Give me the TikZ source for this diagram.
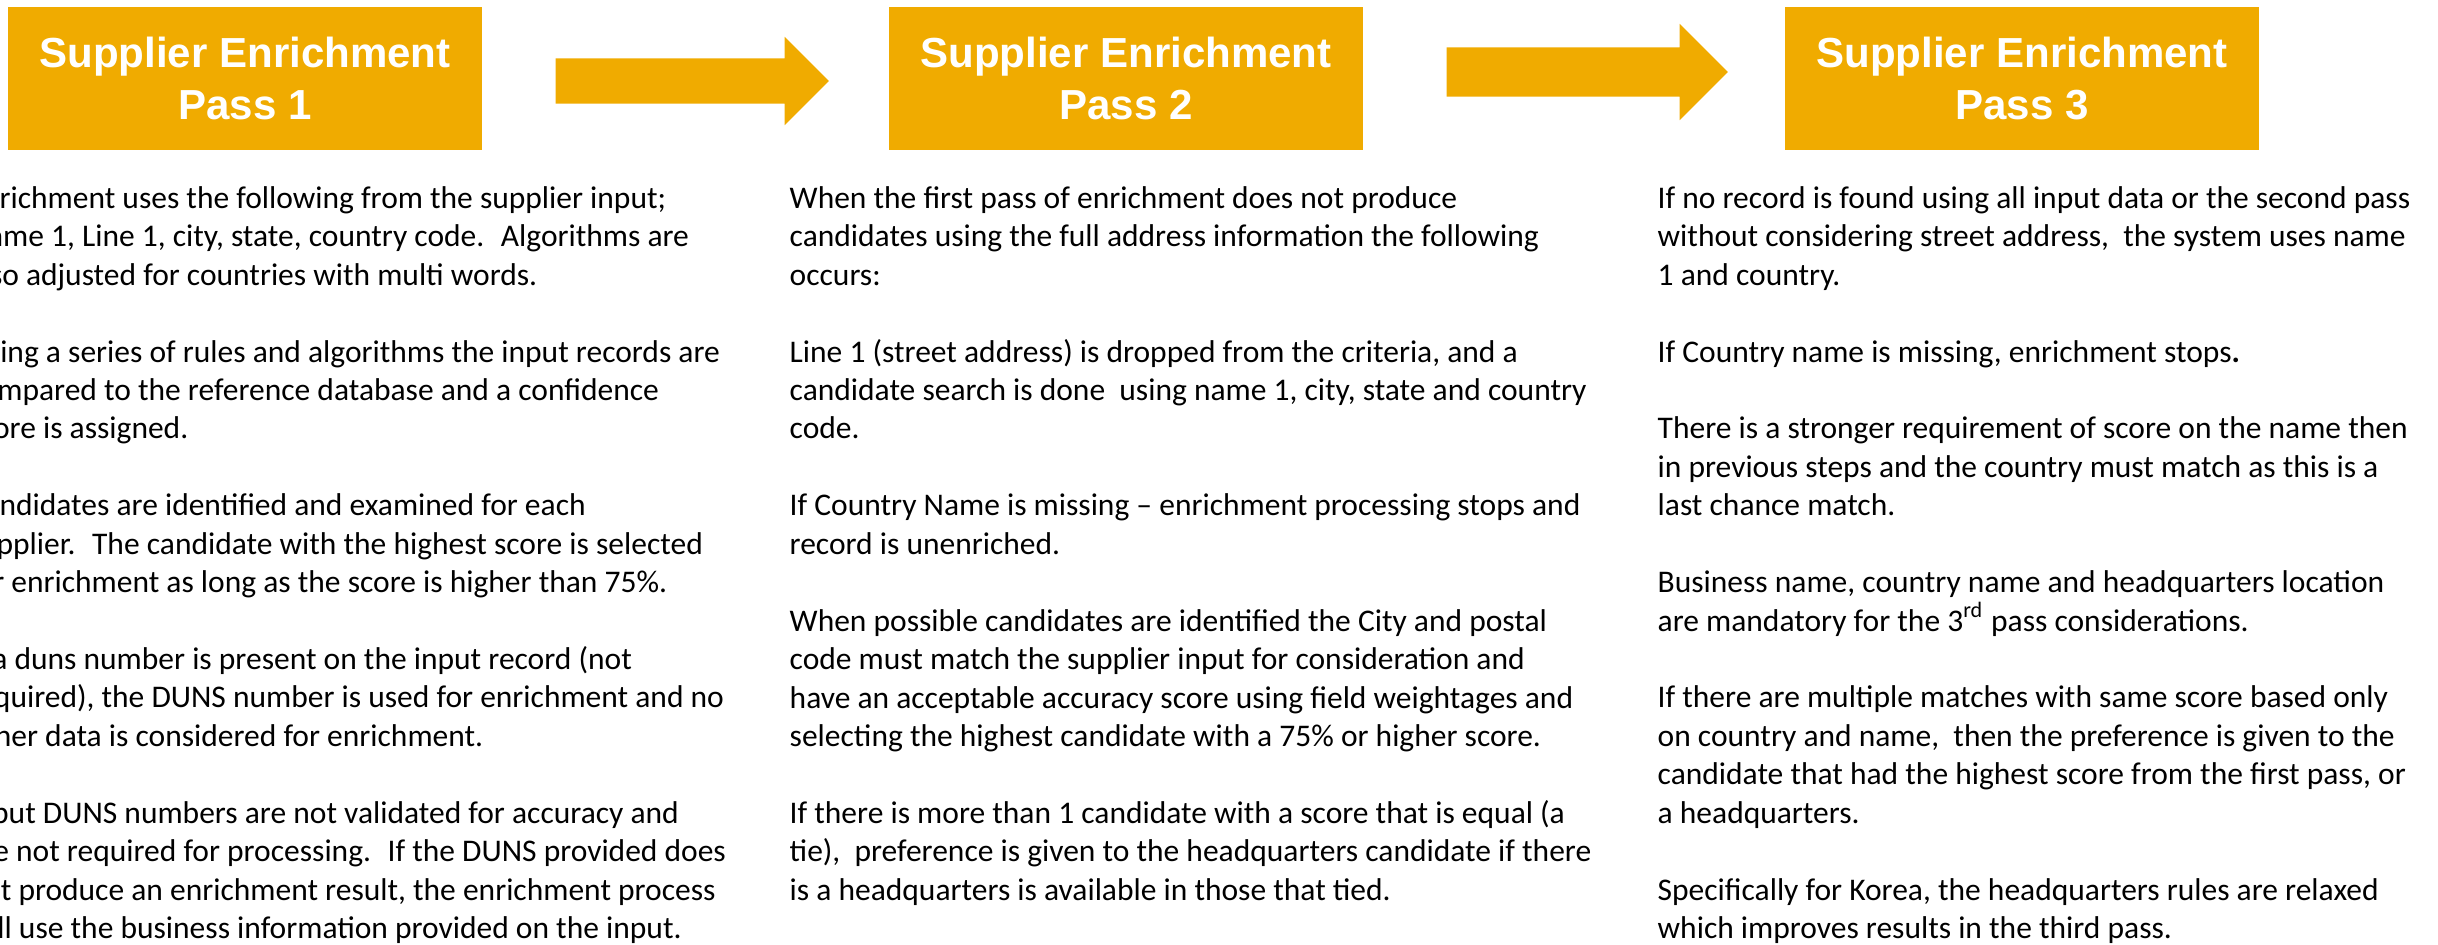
\documentclass[tikz,border=0pt]{standalone}
\usepackage{fontspec}
\usepackage{xcolor}
\usepackage{tikz}
\usetikzlibrary{shapes.arrows}
\setmainfont{Carlito}
\newfontfamily\headfont{Liberation Sans}
\definecolor{passgold}{RGB}{240,171,0}
\newlength{\blankline}
\setlength{\blankline}{10.93pt}

\begin{document}
\begin{tikzpicture}[x=0.01cm,y=-0.01cm,
    passbox/.style={fill=passgold,minimum width=4.74cm,minimum height=1.43cm,inner sep=0pt,
      text=white,align=center,font=\headfont\bfseries\fontsize{11.95}{14.8}\selectfont},
    passarrow/.style={single arrow,fill=passgold,anchor=tail,single arrow tip angle=90},
    notes/.style={anchor=base west,inner sep=0pt,align=left,font=\fontsize{8.96}{10.93}\selectfont}]
    \useasboundingbox (0,0) rectangle (2438,945);
    \clip (0,0) rectangle (2438,945);
    \node[passbox] (p1) at (245,78.5) {Supplier Enrichment\\Pass 1};
    \node[passbox] (p2) at (1126,78.5) {Supplier Enrichment\\Pass 2};
    \node[passbox] (p3) at (2022,78.5) {Supplier Enrichment\\Pass 3};
    \node[passarrow,inner sep=0.22cm,single arrow head extend=0.215cm,minimum height=2.73cm] (a1) at (555,81) {};
    \node[passarrow,inner sep=0.24cm,single arrow head extend=0.235cm,minimum height=2.81cm] (a2) at (1446,72) {};
    \node[notes] (t1) at (-33,938.6) {Enrichment uses the following from the supplier input;\\
Name 1, Line 1, city, state, country code.~ Algorithms are\\
also adjusted for countries with multi words.\\[\blankline]
Using a series of rules and algorithms the input records are\\
compared to the reference database and a confidence\\
score is assigned.\\[\blankline]
Candidates are identified and examined for each\\
supplier.~ The candidate with the highest score is selected\\
for enrichment as long as the score is higher than 75\%.\\[\blankline]
If a duns number is present on the input record (not\\
required), the DUNS number is used for enrichment and no\\
other data is considered for enrichment.\\[\blankline]
Input DUNS numbers are not validated for accuracy and\\
are not required for processing.~ If the DUNS provided does\\
not produce an enrichment result, the enrichment process\\
will use the business information provided on the input.};
    \node[notes] (t2) at (789,900.2) {When the first pass of enrichment does not produce\\
candidates using the full address information the following\\
occurs:\\[\blankline]
Line 1 (street address) is dropped from the criteria, and a\\
candidate search is done~ using name 1, city, state and country\\
code.\\[\blankline]
If Country Name is missing -- enrichment processing stops and\\
record is unenriched.\\[\blankline]
When possible candidates are identified the City and postal\\
code must match the supplier input for consideration and\\
have an acceptable accuracy score using field weightages and\\
selecting the highest candidate with a 75\% or higher score.\\[\blankline]
If there is more than 1 candidate with a score that is equal (a\\
tie),~ preference is given to the headquarters candidate if there\\
is a headquarters is available in those that tied.};
    \node[notes] (t3) at (1657,938.6) {If no record is found using all input data or the second pass\\
without considering street address,~ the system uses name\\
1 and country.\\[\blankline]
If Country name is missing, enrichment stops\textbf{.}\\[\blankline]
There is a stronger requirement of score on the name then\\
in previous steps and the country must match as this is a\\
last chance match.\\[\blankline]
Business name, country name and headquarters location\\
are mandatory for the 3\textsuperscript{rd} pass considerations.\\[\blankline]
If there are multiple matches with same score based only\\
on country and name,~ then the preference is given to the\\
candidate that had the highest score from the first pass, or\\
a headquarters.\\[\blankline]
Specifically for Korea, the headquarters rules are relaxed\\
which improves results in the third pass.};
\end{tikzpicture}
\end{document}
